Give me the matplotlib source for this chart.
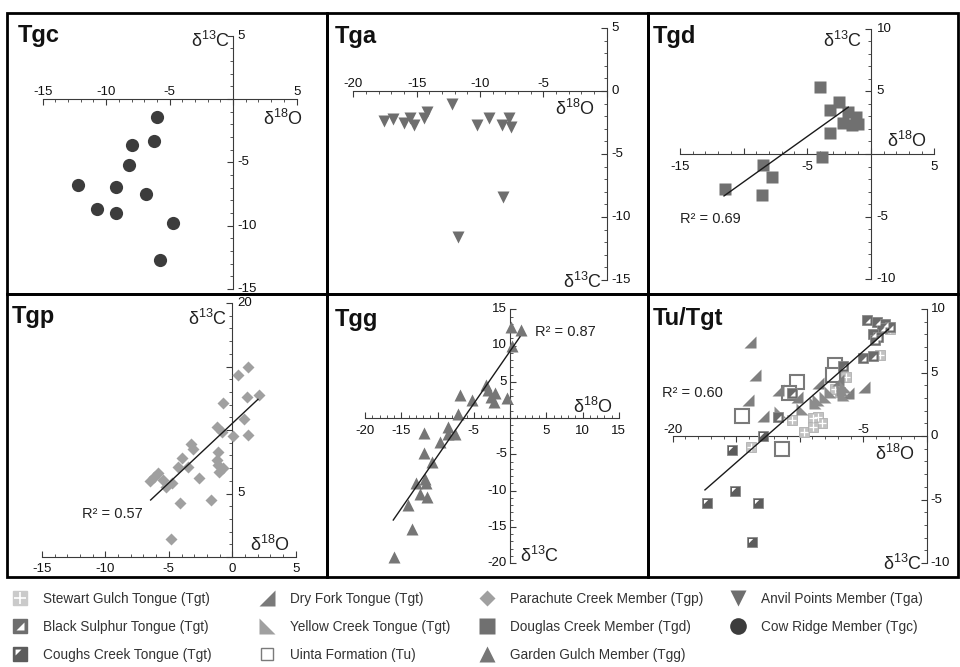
import numpy as np
import matplotlib
matplotlib.use('Agg')
import matplotlib.pyplot as plt
from matplotlib.lines import Line2D
from matplotlib.path import Path
from matplotlib.patches import Rectangle
from matplotlib.legend_handler import HandlerTuple

plt.rcParams['font.family'] = ['Liberation Sans', 'DejaVu Sans']

# ---------------- data (d18O, d13C) ----------------
tgc_d18o = [-5.97, -6.23, -7.96, -8.2, -12.24, -9.22, -6.88, -10.74, -9.22, -4.71, -5.73]
tgc_d13c = [-1.40, -3.31, -3.66, -5.24, -6.81, -6.92, -7.52, -8.68, -9.02, -9.76, -12.73]

tga_d18o = [-17.55, -16.9, -16.0, -15.5, -15.2, -14.45, -14.2, -12.19, -10.21, -9.27,
            -8.24, -7.69, -7.55, -8.21, -11.71]
tga_d13c = [-2.36, -2.25, -2.5, -2.17, -2.72, -2.17, -1.64, -1.06, -2.72, -2.17,
            -2.7, -2.17, -2.83, -8.39, -11.6]

tgd_d18o = [-3.97, -2.5, -3.21, -1.77, -1.16, -2.16, -0.98, -1.5, -3.21, -3.86,
            -8.47, -7.74, -11.46, -8.55]
tgd_d13c = [5.32, 4.17, 3.51, 3.33, 2.93, 2.5, 2.39, 2.31, 1.65, -0.21,
            -0.88, -1.86, -2.79, -3.27]
tgd_fit = [0.725, 5.02]
tgd_fit_x = [-11.54, -1.77]

tgp_d18o = [1.26, 0.43, 2.13, 1.13, -0.76, 0.9, -1.2, -0.83, 0.08, 1.26, -3.28, -3.06,
            -1.1, -3.98, -1.23, -3.51, -4.25, -1.1, -0.76, -1.02, -5.83, -6.14, -2.62,
            -6.48, -5.43, -4.77, -5.24, -4.09, -1.65, -4.86]
tgp_d13c = [14.98, 14.3, 12.76, 12.57, 12.1, 10.89, 10.26, 9.87, 9.55, 9.58, 8.9, 8.48,
            8.24, 7.77, 7.64, 7.11, 7.11, 7.24, 6.98, 6.72, 6.64, 6.32, 6.24,
            6.01, 6.06, 5.85, 5.54, 4.23, 4.49, 1.39]
tgp_fit = [0.938, 10.52]
tgp_fit_x = [-6.43, 2.02]

tgg_d18o = [0.1, 1.52, 0.23, -3.31, -2.99, -2.07, -2.67, -2.16, -0.46, -6.9, -5.29,
            -7.13, -8.51, -8.6, -7.59, -9.66, -11.82, -11.86, -10.8, -13.0, -11.72,
            -11.63, -12.41, -11.45, -14.11, -13.56, -15.96]
tgg_d13c = [12.5, 12.14, 9.93, 4.55, 3.86, 3.49, 2.94, 2.25, 2.71, 3.17, 2.48,
            0.55, -1.2, -2.2, -2.2, -3.27, -2.03, -4.78, -6.03, -9.0, -8.46,
            -9.0, -10.48, -10.94, -12.0, -15.36, -19.13]
tgg_fit = [1.446, 9.21]
tgg_fit_x = [-16.1, 1.38]

# Tu / Tgt panel
stewart_d18o = [-13.83, -10.63, -9.64, -8.93, -8.54, -8.27, -8.93, -7.22, -6.35, -3.68, -2.89, -6.8]
stewart_d13c = [-0.84, 1.26, 0.34, 1.39, 1.52, 1.05, 0.73, 3.68, 4.62, 6.38, 8.4, 3.5]
blacksul_d18o = [-11.69, -10.63, -6.57, -4.99, -4.25, -4.72, -3.94, -3.28, -2.89, -3.54, -4.2, -3.81, -4.07]
blacksul_d13c = [1.52, 3.41, 5.51, 6.12, 6.3, 9.13, 9.0, 8.8, 8.6, 8.48, 8.0, 7.82, 7.56]
coughs_d18o = [-15.35, -15.09, -17.28, -13.31, -13.73, -12.87]
coughs_d13c = [-1.1, -4.33, -5.3, -5.3, -8.32, 0.02]
dryfork_d18o = [-13.91, -13.52, -14.05, -12.87, -11.69, -8.54, -4.91, -10.24, -7.0, -6.2]
dryfork_d13c = [7.43, 4.8, 2.83, 1.57, 3.62, 4.15, 3.88, 3.05, 4.4, 3.4]
yellow_d18o = [-11.55, -9.84, -8.54, -8.0, -7.61, -6.69, -6.57, -8.8, -6.43]
yellow_d13c = [1.91, 2.1, 2.83, 3.1, 3.49, 3.62, 3.23, 2.57, 3.88]
uinta_d18o = [-14.57, -10.24, -10.84, -11.37, -7.22, -7.4]
uinta_d13c = [1.57, 4.28, 3.41, -1.0, 5.59, 4.8]
tut_fit = [0.876, 11.05]
tut_fit_x = [-17.46, -3.02]

# ---------------- styling ----------------
W, H = 960, 667
AX_C = '#3a3a3a'
LINE_C = '#1a1a1a'

# custom markers
rt_lr = Path([(-1, -1), (1, -1), (1, 1), (-1, -1)], closed=True)      # Dry Fork
rt_ll = Path([(-1, 1), (-1, -1), (1, -1), (-1, 1)], closed=True)      # Yellow Creek
half_lr = Path([(1, 1), (1, -1), (-1, -1), (1, 1)], closed=True)      # white half
corner_ul = Path([(1, 1), (-1, -1), (-0.75, 0.75), (0.15, 0.75), (-0.75, -0.15), (-0.75, 0.75)],
                 [Path.MOVETO, Path.MOVETO, Path.MOVETO, Path.LINETO, Path.LINETO, Path.CLOSEPOLY])

fig = plt.figure(figsize=(W / 100, H / 100), dpi=100)


def make_panel(box, origin, scale, xb, yb, xdir, ydir):
    x0, y0, x1, y1 = box
    ox, oy = origin
    sx, sy = scale
    ax = fig.add_axes([x0 / W, 1 - y1 / H, (x1 - x0) / W, (y1 - y0) / H])
    ax.set_xlim((x0 - ox) / sx, (x1 - ox) / sx)
    ax.set_ylim((oy - y1) / sy, (oy - y0) / sy)
    ax.patch.set_alpha(0)
    ax.spines['top'].set_visible(False)
    ax.spines['right'].set_visible(False)
    for s in ('left', 'bottom'):
        ax.spines[s].set_position(('data', 0))
        ax.spines[s].set_linewidth(0.8)
        ax.spines[s].set_color(AX_C)
    ax.spines['bottom'].set_bounds(*xb)
    ax.spines['left'].set_bounds(*yb)
    ax.set_xticks(np.arange(xb[0], xb[1] + 0.1, 5))
    ax.set_xticks(np.arange(xb[0], xb[1] + 0.1, 1), minor=True)
    ax.set_yticks(np.arange(yb[0], yb[1] + 0.1, 5))
    ax.set_yticks(np.arange(yb[0], yb[1] + 0.1, 1), minor=True)
    ax.tick_params(axis='x', which='both', direction=xdir, labelbottom=False, colors=AX_C)
    ax.tick_params(axis='y', which='both', direction=ydir, labelleft=False, colors=AX_C)
    ax.tick_params(which='major', length=4, width=0.8)
    ax.tick_params(which='minor', length=2.5, width=0.6)
    ax.add_patch(Rectangle((0, 0), 1, 1, transform=ax.transAxes, fill=False,
                           lw=2, ec='black', clip_on=False, zorder=10))
    return ax


def xlabels(ax, vals, dy):
    va = 'baseline' if dy > 0 else 'top'
    for v in vals:
        ax.annotate(str(v), (v, 0), xytext=(0, dy), textcoords='offset pixels',
                    ha='center', va=va, fontsize=9.5, color='#111')


def ylabels(ax, vals, dx):
    ha = 'left' if dx > 0 else 'right'
    for v in vals:
        ax.annotate(str(v), (0, v), xytext=(dx, 0), textcoords='offset pixels',
                    ha=ha, va='center', fontsize=9.5, color='#111')


def ftext(x, y, s, **kw):
    fig.text(x / W, 1 - y / H, s, **kw)


def title(x, y, s):
    ftext(x, y, s, fontsize=17, fontweight='bold', va='baseline', color='#111')


def dlab(x, y, iso, el, ha):
    ftext(x, y, r'$\mathregular{δ^{%s}}$%s' % (iso, el), fontsize=13, ha=ha,
          va='baseline', color='#222')


def r2(x, y, s):
    ftext(x, y, s, fontsize=10.5, va='baseline', color='#222')


def fit_line(ax, fit, fx):
    fx = np.array(fx)
    ax.plot(fx, np.polyval(fit, fx), color=LINE_C, lw=1.0, zorder=4)


# ---- Tgc ----
ax = make_panel((7, 13, 327, 294), (233.1, 99), (12.7, 12.67), (-15, 5), (-15, 5), 'out', 'out')
ax.plot(tgc_d18o, tgc_d13c, 'o', ms=9.5, color='#3c3c3c', mec='none', zorder=3)
xlabels(ax, [-15, -10, -5, 5], 4)
ylabels(ax, [5, -5, -10, -15], 4)
title(18, 41.7, 'Tgc')
dlab(230, 46.7, '13', 'C', 'right')
dlab(263, 125, '18', 'O', 'left')

# ---- Tga ----
ax = make_panel((327, 13, 648, 294), (606.7, 91), (12.67, 12.6), (-20, 0), (-15, 5), 'out', 'out')
ax.plot(tga_d18o, tga_d13c, 'v', ms=8.5, color='#6e6e6e', mec='none', zorder=3)
xlabels(ax, [-20, -15, -10, -5], 4)
ylabels(ax, [5, 0, -5, -10, -15], 5)
title(335, 43.3, 'Tga')
dlab(555, 115, '18', 'O', 'left')
dlab(602, 288, '13', 'C', 'right')

# ---- Tgd ----
ax = make_panel((648, 13, 958, 294), (870.8, 154), (12.72, 12.53), (-15, 5), (-10, 10), 'in', 'out')
ax.plot(tgd_d18o, tgd_d13c, 's', ms=8.8, color='#707070', mec='none', zorder=3)
fit_line(ax, tgd_fit, tgd_fit_x)
xlabels(ax, [-15, -5, 5], -7)
ylabels(ax, [10, 5, -5, -10], 6)
title(653, 43.3, 'Tgd')
dlab(862, 46.7, '13', 'C', 'right')
dlab(887, 146.7, '18', 'O', 'left')
r2(680, 223.3, 'R² = 0.69')

# ---- Tgp ----
ax = make_panel((7, 294, 327, 577), (232.3, 557), (12.7, 12.7), (-15, 5), (0, 20), 'in', 'out')
ax.plot(tgp_d18o, tgp_d13c, 'D', ms=6.6, color='#a0a0a0', mec='none', zorder=3)
fit_line(ax, tgp_fit, tgp_fit_x)
xlabels(ax, [-15, -10, -5, 0, 5], -6)
ylabels(ax, [20, 5], 5)
title(12, 323.3, 'Tgp')
dlab(227, 325, '13', 'C', 'right')
dlab(250, 550.7, '18', 'O', 'left')
r2(81.7, 518.3, 'R² = 0.57')

# ---- Tgg ----
ax = make_panel((327, 294, 648, 577), (510, 418), (7.25, 7.25), (-20, 15), (-20, 15), 'in', 'in')
ax.plot(tgg_d18o, tgg_d13c, '^', ms=8.5, color='#767676', mec='none', zorder=3)
fit_line(ax, tgg_fit, tgg_fit_x)
xlabels(ax, [-20, -15, -5, 5, 10, 15], -7)
ylabels(ax, [15, 10, 5, -5, -10, -15, -20], -3)
title(335, 325.7, 'Tgg')
dlab(573, 413.3, '18', 'O', 'left')
dlab(520, 561.7, '13', 'C', 'left')
r2(535, 335.7, 'R² = 0.87')

# ---- Tu/Tgt ----
ax = make_panel((648, 294, 958, 577), (926.7, 436), (12.7, 12.7), (-20, 0), (-10, 10), 'out', 'out')
ax.plot(uinta_d18o, uinta_d13c, 's', ms=9.5, mfc='white', mec='#7a7a7a', mew=1.5, zorder=3)
ax.plot(stewart_d18o, stewart_d13c, 's', ms=6.8, color='#c2c2c2', mec='#b0b0b0', mew=0.6, zorder=3)
ax.plot(stewart_d18o, stewart_d13c, '+', ms=6.2, mec='white', mew=0.9, zorder=3)
ax.plot(dryfork_d18o, dryfork_d13c, marker=rt_lr, ls='none', ms=8, color='#7f7f7f', mec='none', zorder=3)
ax.plot(yellow_d18o, yellow_d13c, marker=rt_ll, ls='none', ms=8, color='#8c8c8c', mec='none', zorder=3)
ax.plot(blacksul_d18o, blacksul_d13c, 's', ms=6.8, color='#6a6a6a', mec='#8a8a8a', mew=0.6, zorder=3)
ax.plot(blacksul_d18o, blacksul_d13c, marker=half_lr, ls='none', ms=3.6, color='white', mec='none', zorder=3)
ax.plot(coughs_d18o, coughs_d13c, 's', ms=6.8, color='#5c5c5c', mec='#8a8a8a', mew=0.6, zorder=3)
ax.plot(coughs_d18o, coughs_d13c, marker=corner_ul, ls='none', ms=6.8, color='white', mec='none', zorder=3)
fit_line(ax, tut_fit, tut_fit_x)
xlabels(ax, [-20, -5], 3)
ylabels(ax, [10, 5, 0, -5, -10], 4)
title(653, 325, 'Tu/Tgt')
dlab(875, 460, '18', 'O', 'left')
dlab(922, 570, '13', 'C', 'right')
r2(662, 397.3, 'R² = 0.60')

# ---------------- legend ----------------
def mk(marker, ms, **kw):
    return Line2D([], [], ls='none', marker=marker, ms=ms, **kw)


h_stewart = (mk('s', 9.5, color='#cacaca', mec='#cacaca'), mk('+', 9.0, mec='white', mew=1.2))
h_black = (mk('s', 9.5, color='#6e6e6e', mec='#6e6e6e'), mk(half_lr, 6, color='white', mec='none'))
h_coughs = (mk('s', 9.5, color='#5c5c5c', mec='#5c5c5c'), mk(corner_ul, 9.5, color='white', mec='none'))
h_dry = mk(rt_lr, 11, color='#7a7a7a', mec='none')
h_yellow = mk(rt_ll, 11, color='#a0a0a0', mec='none')
h_uinta = mk('s', 9, mfc='white', mec='#7a7a7a', mew=1.0)
h_para = mk('D', 8, color='#a0a0a0', mec='none')
h_doug = mk('s', 11, color='#707070', mec='none')
h_garden = mk('^', 11, color='#767676', mec='none')
h_anvil = mk('v', 11, color='#6e6e6e', mec='none')
h_cow = mk('o', 12, color='#3c3c3c', mec='none')

legend_cols = [
    (20, [h_stewart, h_black, h_coughs],
     ['Stewart Gulch Tongue (Tgt)', 'Black Sulphur Tongue (Tgt)', 'Coughs Creek Tongue (Tgt)']),
    (267, [h_dry, h_yellow, h_uinta],
     ['Dry Fork Tongue (Tgt)', 'Yellow Creek Tongue (Tgt)', 'Uinta Formation (Tu)']),
    (487, [h_para, h_doug, h_garden],
     ['Parachute Creek Member (Tgp)', 'Douglas Creek Member (Tgd)', 'Garden Gulch Member (Tgg)']),
    (738, [h_anvil, h_cow],
     ['Anvil Points Member (Tga)', 'Cow Ridge Member (Tgc)']),
]
fs = 9.8
hl = 1.5
for xc, hs, ls in legend_cols:
    left = xc - hl * fs * 100 / 72 / 2
    fig.legend(hs, ls, loc='upper left', bbox_to_anchor=(left / W, 1 - 592 / H),
               frameon=False, fontsize=fs, handlelength=hl, handletextpad=0.95,
               borderpad=0, borderaxespad=0, labelspacing=1.02, labelcolor='#333',
               handler_map={tuple: HandlerTuple(ndivide=1)})

fig.savefig('out.png', dpi=100)
